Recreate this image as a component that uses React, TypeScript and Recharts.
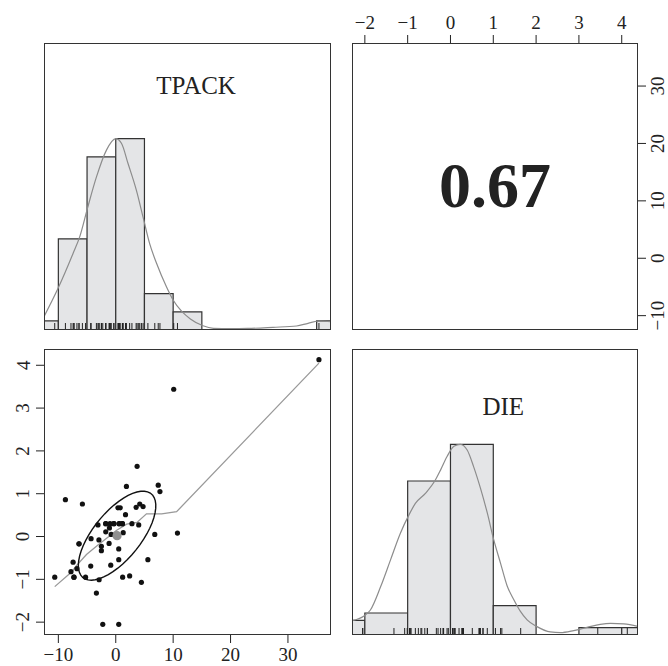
import React from "react";
import {
  ComposedChart,
  XAxis,
  YAxis,
  Scatter,
  Line,
  ReferenceArea,
  ReferenceDot,
} from "recharts";

// TPACK and DIE scores, one pair per respondent
const tpackScores = [
  35.4, 10.1, 3.72, 1.86, 7.4, 7.7, -8.77, -5.81, 0.38, 0.78,
  3.55, 4.18, 4.76, 1.7, -3.1, -1.74, -1.0, -0.33, 0.6, 1.16,
  2.82, 4.0, -1.1, -1.74, -0.8, 1.3, 6.8, 10.75, -6.4, -4.3,
  -2.93, -1.16, -2.5, -2.5, 0.52, 0.52, 5.6, -7.43, -4.36, -0.87,
  -7.8, -6.76, -10.63, -7.28, -5.26, -2.9, 1.2, 2.42, 4.47, -3.37,
  -2.26, 0.52, -7.28, -6.4, -1.74, -0.33, 0.6, 1.16,
];
const dieScores = [
  4.13, 3.44, 1.64, 1.17, 1.2, 1.05, 0.86, 0.76, 0.67, 0.67,
  0.68, 0.76, 0.7, 0.51, 0.27, 0.3, 0.3, 0.3, 0.3, 0.3,
  0.3, 0.27, 0.2, 0.11, 0.05, 0.09, 0.05, 0.08, -0.17, -0.05,
  -0.08, -0.16, -0.23, -0.33, -0.29, -0.54, -0.54, -0.6, -0.69, -0.67,
  -0.82, -0.75, -0.95, -0.95, -0.95, -1.01, -0.95, -0.92, -1.07, -1.32,
  -2.05, -2.05, -0.95, -0.17, 0.3, 0.3, 0.3, 0.3,
];

// histogram bins (right-closed) and their counts
const tpackBreaks = [-15, -10, -5, 0, 5, 10, 15, 20, 25, 30, 35, 40];
const tpackCounts = [1, 10, 19, 21, 4, 2, 0, 0, 0, 0, 1];
const dieBreaks = [-3, -2, -1, 0, 1, 2, 3, 4, 5];
const dieCounts = [2, 3, 21, 26, 4, 0, 1, 1];

// kernel density estimates, scaled so the peak is 1
const tpackDensX = [
  -12.5, -10.05, -7.44, -6.27, -4.93, -3.36, -1.62, 0, 0.99, 2.14, 3.6, 4.76,
  5.92, 7.09, 8.83, 9.99, 11.5, 13.0, 15.2, 17, 20, 23, 27.4, 31.5, 33.5, 35.5,
  37.5,
];
const tpackDensY = [
  0.07, 0.218, 0.4, 0.488, 0.636, 0.8, 0.94, 1.0, 0.976, 0.87, 0.73, 0.59,
  0.45, 0.35, 0.226, 0.157, 0.097, 0.058, 0.022, 0.009, 0.007, 0.008, 0.014,
  0.021, 0.035, 0.047, 0.043,
];
const dieDensX = [
  -2.3, -2.02, -1.87, -1.63, -1.4, -1.17, -0.97, -0.82, -0.58, -0.35, -0.23,
  -0.08, 0.08, 0.23, 0.39, 0.54, 0.7, 0.86, 1.01, 1.17, 1.32, 1.48, 1.63, 1.79,
  2.02, 2.33, 2.57, 2.88, 3.19, 3.5, 3.74, 4.05, 4.38,
];
const dieDensY = [
  0.075, 0.1, 0.131, 0.254, 0.394, 0.534, 0.63, 0.69, 0.744, 0.814, 0.866,
  0.936, 0.99, 1.0, 0.97, 0.883, 0.77, 0.64, 0.5, 0.376, 0.26, 0.185, 0.125,
  0.079, 0.044, 0.016, 0.012, 0.023, 0.04, 0.056, 0.061, 0.058, 0.045,
];

// lowess smoother of DIE on TPACK
const smoothX = [-10.63, -7.7, -6.85, -5.1, -3.1, -1.2, 0.1, 1.9, 3.7, 5.35, 8.0, 10.6, 35.4];
const smoothY = [-1.17, -0.83, -0.68, -0.42, -0.2, 0.0, 0.14, 0.29, 0.33, 0.53, 0.53, 0.58, 4.05];

// summary statistics for the correlation ellipse
const tpackMean = 0.23;
const dieMean = 0.02;
const tpackSd = 6.75;
const dieSd = 1.04;
const corr = 0.67;

const tpackTicks = [-10, 0, 10, 20, 30];
const dieTicks = [-2, -1, 0, 1, 2, 3, 4];

const TPACK_DOMAIN: [number, number] = [-12.5, 37.5];
const DIE_DOMAIN: [number, number] = [-2.3, 4.38];
const HIST_DOMAIN: [number, number] = [0, 1.5];

const FONT = "'Liberation Serif', 'Times New Roman', serif";
const INK = "#222";
const BAR_FILL = "#e4e5e7";
const CURVE = "#8c8c8c";

const toXY = (xs: number[], ys: number[]) => xs.map((x, i) => ({ x, y: ys[i] }));
const fmt = (v: number) => String(v).replace("-", "\u2212");

const points = toXY(tpackScores, dieScores);

// psych-style ellipse: unit circle stretched by sqrt(1 +/- r) along the diagonals
const ellipse = Array.from({ length: 52 }, (_, i) => {
  const a = (i * 2 * Math.PI) / 51;
  const t = 1 / Math.sqrt(2);
  const s1 = Math.sqrt(1 + corr);
  const s2 = Math.sqrt(1 - corr);
  return {
    x: tpackMean + tpackSd * t * (s1 * Math.cos(a) - s2 * Math.sin(a)),
    y: dieMean + dieSd * t * (s1 * Math.cos(a) + s2 * Math.sin(a)),
  };
});

const tickText = { fontSize: 19, fontFamily: FONT, fill: INK };

const BottomTick = (p: any) => (
  <text x={p.x} y={p.y + 18} textAnchor="middle" {...tickText}>
    {fmt(p.payload.value)}
  </text>
);
const TopTick = (p: any) => (
  <text x={p.x} y={p.y - 6.5} textAnchor="middle" {...tickText}>
    {fmt(p.payload.value)}
  </text>
);
const LeftTick = (p: any) => {
  const x = p.x - 6.5;
  return (
    <text x={x} y={p.y} textAnchor="middle" transform={`rotate(-90 ${x} ${p.y})`} {...tickText}>
      {fmt(p.payload.value)}
    </text>
  );
};
const RightTick = (p: any) => {
  const x = p.x + 18;
  return (
    <text x={x} y={p.y} textAnchor="middle" transform={`rotate(-90 ${x} ${p.y})`} {...tickText}>
      {fmt(p.payload.value)}
    </text>
  );
};

const RugTick = (p: any) => (
  <line x1={p.cx} y1={p.cy} x2={p.cx} y2={p.cy - 7} stroke={INK} strokeWidth={1} />
);
const Dot = (p: any) => <circle cx={p.cx} cy={p.cy} r={2.6} fill="#111" />;
const MeanDot = (p: any) => <circle cx={p.cx} cy={p.cy} r={4.6} fill="#8f8f8f" />;

const textShape = (label: string, size: number, weight: string) => (p: any) => (
  <text x={p.cx} y={p.cy} textAnchor="middle" fontSize={size} fontWeight={weight} fontFamily={FONT} fill={INK}>
    {label}
  </text>
);

const axisStyle = {
  tickSize: 8,
  tickMargin: 0,
  axisLine: false,
  tickLine: { stroke: INK },
  interval: 0 as const,
};

interface HistProps {
  width: number;
  height: number;
  domain: [number, number];
  breaks: number[];
  counts: number[];
  scores: number[];
  densX: number[];
  densY: number[];
  title: string;
  titleX: number;
  titleY: number;
}

function HistPanel(props: HistProps) {
  const top = Math.max(...props.counts);
  return (
    <ComposedChart width={props.width} height={props.height} margin={{ top: 0, right: 0, bottom: 0, left: 0 }}>
      <XAxis type="number" dataKey="x" domain={props.domain} allowDataOverflow hide />
      <YAxis type="number" dataKey="y" domain={HIST_DOMAIN} allowDataOverflow hide />
      {props.counts.map((c, i) =>
        c > 0 ? (
          <ReferenceArea
            key={`bin-${i}`}
            x1={props.breaks[i]}
            x2={props.breaks[i + 1]}
            y1={0}
            y2={c / top}
            fill={BAR_FILL}
            fillOpacity={1}
            stroke="#333"
            strokeWidth={1.2}
            ifOverflow="hidden"
          />
        ) : null
      )}
      <Line
        data={toXY(props.densX, props.densY)}
        dataKey="y"
        type="monotone"
        dot={false}
        stroke={CURVE}
        strokeWidth={1.2}
        isAnimationActive={false}
      />
      <Scatter
        data={props.scores.map((x) => ({ x, y: 0 }))}
        shape={RugTick}
        isAnimationActive={false}
      />
      <ReferenceDot x={props.titleX} y={props.titleY} r={0} shape={textShape(props.title, 25, "normal")} />
    </ComposedChart>
  );
}

const box = (left: number, top: number, width: number, height: number): React.CSSProperties => ({
  position: "absolute",
  left,
  top,
  width,
  height,
  border: "1px solid #333",
  boxSizing: "border-box",
  pointerEvents: "none",
});

export default function App() {
  return (
    <div style={{ position: "absolute", left: 0, top: 0, width: 668, height: 666, background: "#fff", fontFamily: FONT }}>
      {/* TPACK histogram */}
      <div style={{ position: "absolute", left: 44, top: 43 }}>
        <HistPanel
          width={287}
          height={287}
          domain={TPACK_DOMAIN}
          breaks={tpackBreaks}
          counts={tpackCounts}
          scores={tpackScores}
          densX={tpackDensX}
          densY={tpackDensY}
          title="TPACK"
          titleX={14}
          titleY={1.233}
        />
      </div>

      {/* correlation */}
      <div style={{ position: "absolute", left: 352, top: 0 }}>
        <ComposedChart width={316} height={330} margin={{ top: 0, right: 0, bottom: 0, left: 0 }}>
          <XAxis
            type="number"
            dataKey="x"
            orientation="top"
            height={43}
            domain={DIE_DOMAIN}
            ticks={dieTicks}
            allowDataOverflow
            tick={TopTick}
            {...axisStyle}
          />
          <YAxis
            type="number"
            dataKey="y"
            orientation="right"
            width={30}
            domain={TPACK_DOMAIN}
            ticks={tpackTicks}
            allowDataOverflow
            tick={RightTick}
            {...axisStyle}
          />
          <ReferenceDot x={1.04} y={8.98} r={0} shape={textShape(corr.toFixed(2), 64, "bold")} />
        </ComposedChart>
      </div>

      {/* scatter with ellipse and smoother */}
      <div style={{ position: "absolute", left: 0, top: 349 }}>
        <ComposedChart width={331} height={317} margin={{ top: 0, right: 0, bottom: 0, left: 0 }}>
          <XAxis
            type="number"
            dataKey="x"
            height={31}
            domain={TPACK_DOMAIN}
            ticks={tpackTicks}
            allowDataOverflow
            tick={BottomTick}
            {...axisStyle}
          />
          <YAxis
            type="number"
            dataKey="y"
            width={44}
            domain={DIE_DOMAIN}
            ticks={dieTicks}
            allowDataOverflow
            tick={LeftTick}
            {...axisStyle}
          />
          <Line
            data={toXY(smoothX, smoothY)}
            dataKey="y"
            type="linear"
            dot={false}
            stroke="#999"
            strokeWidth={1.3}
            isAnimationActive={false}
          />
          <Scatter data={points} shape={Dot} isAnimationActive={false} />
          <Line
            data={ellipse}
            dataKey="y"
            type="linear"
            dot={false}
            stroke="#111"
            strokeWidth={1.4}
            isAnimationActive={false}
          />
          <Scatter data={[{ x: tpackMean, y: dieMean }]} shape={MeanDot} isAnimationActive={false} />
        </ComposedChart>
      </div>

      {/* DIE histogram */}
      <div style={{ position: "absolute", left: 352, top: 349 }}>
        <HistPanel
          width={286}
          height={286}
          domain={DIE_DOMAIN}
          breaks={dieBreaks}
          counts={dieCounts}
          scores={dieScores}
          densX={dieDensX}
          densY={dieDensY}
          title="DIE"
          titleX={1.234}
          titleY={1.154}
        />
      </div>

      <div style={box(44, 43, 287, 287)} />
      <div style={box(352, 43, 286, 287)} />
      <div style={box(44, 349, 287, 286)} />
      <div style={box(352, 349, 286, 286)} />
    </div>
  );
}
